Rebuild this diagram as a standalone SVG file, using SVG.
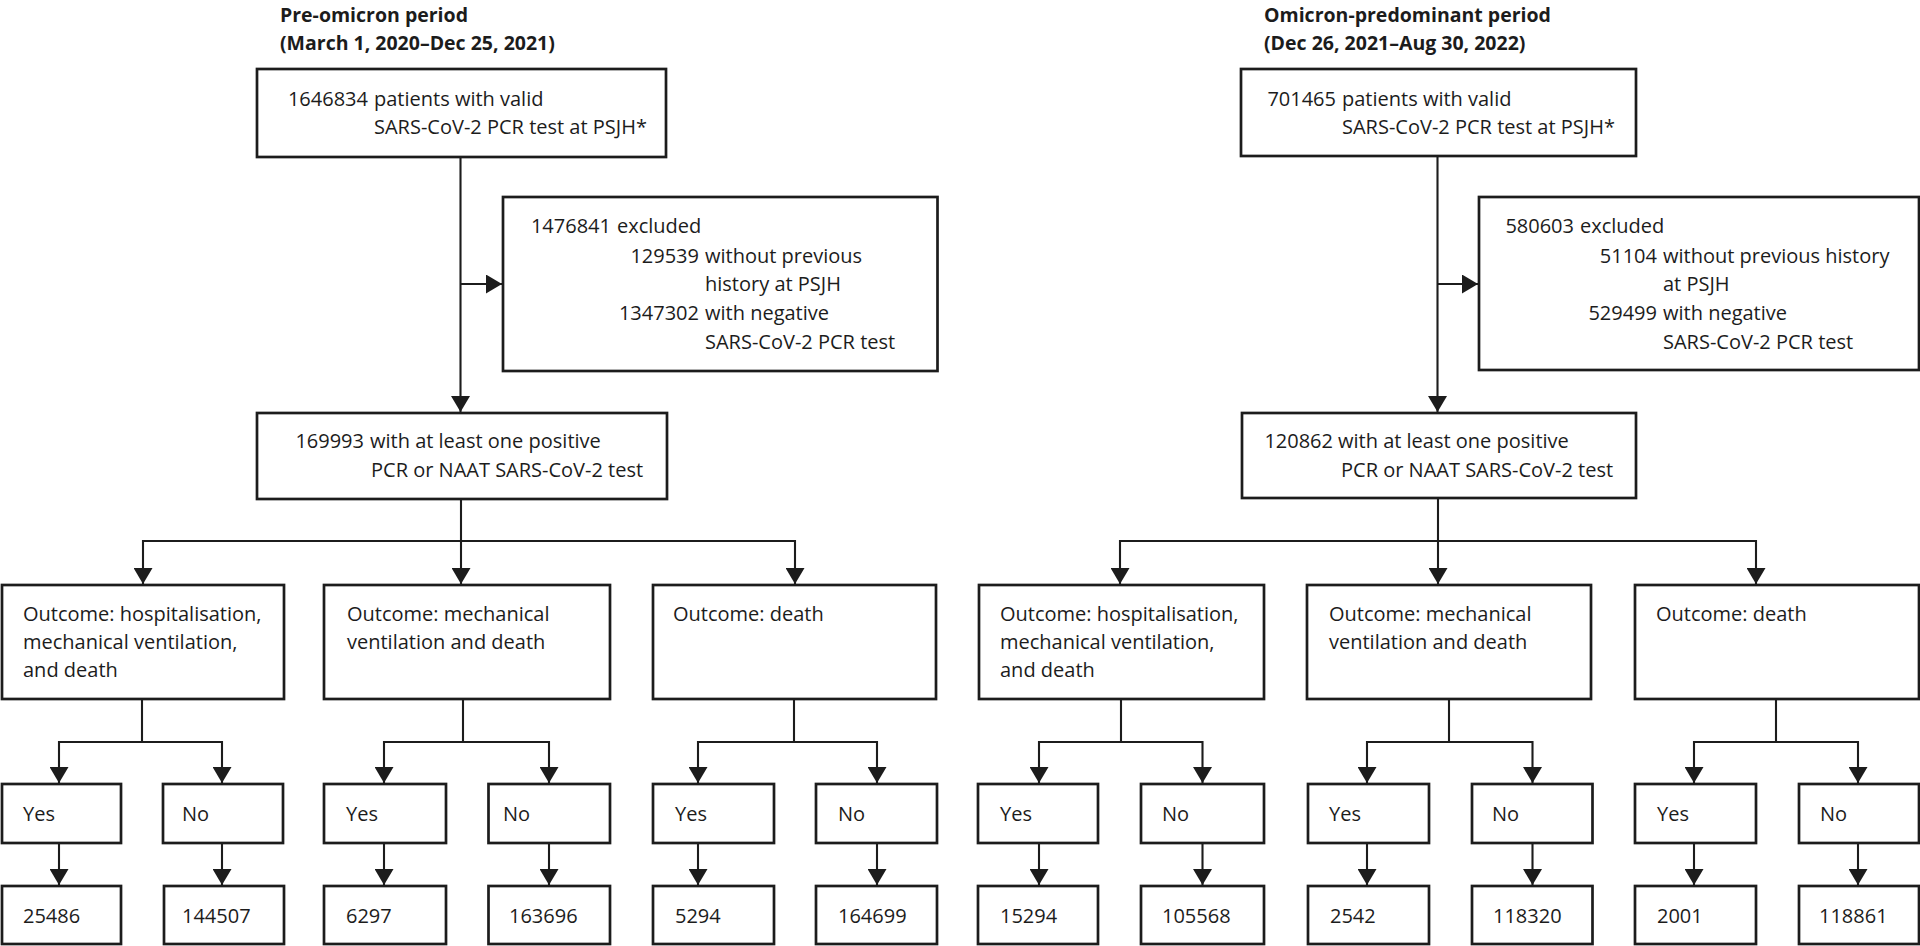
<svg xmlns="http://www.w3.org/2000/svg" width="1920" height="946" viewBox="0 0 1920 946">
<style>
.bg{fill:#ffffff}
.box{fill:#ffffff;stroke:#1c1c1c;stroke-width:2.7}
.c{fill:none;stroke:#1c1c1c;stroke-width:2.1}
.t{font-family:"Open Sans","Liberation Sans",sans-serif;font-size:20px;fill:#1c1c1c}
.h{font-weight:700;font-size:19.5px}
.e{text-anchor:end}
</style>
<defs>
<marker id="ah" viewBox="0 0 16 19" refX="16" refY="9.5" markerWidth="16" markerHeight="19" markerUnits="userSpaceOnUse" orient="auto">
<path d="M0,0 L16,9.5 L0,19 Z" fill="#1c1c1c"/>
</marker>
</defs>
<rect class="bg" x="0" y="0" width="1920" height="946"/>

<g id="headers">
<text class="t h" x="280" y="22">Pre-omicron period</text>
<text class="t h" x="280" y="50">(March 1, 2020–Dec 25, 2021)</text>
<text class="t h" x="1264" y="22">Omicron-predominant period</text>
<text class="t h" x="1264" y="50">(Dec 26, 2021–Aug 30, 2022)</text>
</g>

<g id="connectors">
<path class="c" d="M460.5,157 V412" marker-end="url(#ah)"/>
<path class="c" d="M460.5,284 H502" marker-end="url(#ah)"/>
<path class="c" d="M461,499 V541 H143 V584" marker-end="url(#ah)"/>
<path class="c" d="M461,541 V584" marker-end="url(#ah)"/>
<path class="c" d="M461,541 H795 V584" marker-end="url(#ah)"/>
<path class="c" d="M142,699 V742 H59 V783" marker-end="url(#ah)"/>
<path class="c" d="M142,742 H222 V783" marker-end="url(#ah)"/>
<path class="c" d="M463,699 V742 H384 V783" marker-end="url(#ah)"/>
<path class="c" d="M463,742 H549 V783" marker-end="url(#ah)"/>
<path class="c" d="M794,699 V742 H698 V783" marker-end="url(#ah)"/>
<path class="c" d="M794,742 H877 V783" marker-end="url(#ah)"/>
<path class="c" d="M59,843 V885" marker-end="url(#ah)"/>
<path class="c" d="M222,843 V885" marker-end="url(#ah)"/>
<path class="c" d="M384,843 V885" marker-end="url(#ah)"/>
<path class="c" d="M549,843 V885" marker-end="url(#ah)"/>
<path class="c" d="M698,843 V885" marker-end="url(#ah)"/>
<path class="c" d="M877,843 V885" marker-end="url(#ah)"/>

<path class="c" d="M1437.5,156 V412" marker-end="url(#ah)"/>
<path class="c" d="M1437.5,284 H1478" marker-end="url(#ah)"/>
<path class="c" d="M1438,498 V541 H1120 V584" marker-end="url(#ah)"/>
<path class="c" d="M1438,541 V584" marker-end="url(#ah)"/>
<path class="c" d="M1438,541 H1756 V584" marker-end="url(#ah)"/>
<path class="c" d="M1121,699 V742 H1039 V783" marker-end="url(#ah)"/>
<path class="c" d="M1121,742 H1202.5 V783" marker-end="url(#ah)"/>
<path class="c" d="M1449,699 V742 H1367 V783" marker-end="url(#ah)"/>
<path class="c" d="M1449,742 H1532.5 V783" marker-end="url(#ah)"/>
<path class="c" d="M1776,699 V742 H1694 V783" marker-end="url(#ah)"/>
<path class="c" d="M1776,742 H1858 V783" marker-end="url(#ah)"/>
<path class="c" d="M1039,843 V885" marker-end="url(#ah)"/>
<path class="c" d="M1202.5,843 V885" marker-end="url(#ah)"/>
<path class="c" d="M1367,843 V885" marker-end="url(#ah)"/>
<path class="c" d="M1532.5,843 V885" marker-end="url(#ah)"/>
<path class="c" d="M1694,843 V885" marker-end="url(#ah)"/>
<path class="c" d="M1858,843 V885" marker-end="url(#ah)"/>
</g>

<!-- Pre-omicron -->
<g id="pre-total">
<rect class="box" x="257" y="69" width="409" height="88"/>
<text class="t" y="106"><tspan class="e" x="368">1646834</tspan><tspan x="374">patients with valid</tspan></text>
<text class="t" x="374" y="134">SARS-CoV-2 PCR test at PSJH*</text>
</g>
<g id="pre-excluded">
<rect class="box" x="503" y="197" width="434.5" height="174"/>
<text class="t" y="233"><tspan class="e" x="611">1476841</tspan><tspan x="617">excluded</tspan></text>
<text class="t" y="263"><tspan class="e" x="699">129539</tspan><tspan x="705">without previous</tspan></text>
<text class="t" x="705" y="291">history at PSJH</text>
<text class="t" y="320"><tspan class="e" x="699">1347302</tspan><tspan x="705">with negative</tspan></text>
<text class="t" x="705" y="349">SARS-CoV-2 PCR test</text>
</g>
<g id="pre-positive">
<rect class="box" x="257" y="413" width="410" height="86"/>
<text class="t" y="448"><tspan class="e" x="364">169993</tspan><tspan x="370">with at least one positive</tspan></text>
<text class="t" x="371" y="477">PCR or NAAT SARS-CoV-2 test</text>
</g>
<g id="pre-outcome-hosp">
<rect class="box" x="2" y="585" width="282" height="114"/>
<text class="t" x="23" y="621">Outcome: hospitalisation,</text>
<text class="t" x="23" y="649">mechanical ventilation,</text>
<text class="t" x="23" y="677">and death</text>
</g>
<g id="pre-outcome-mech">
<rect class="box" x="324" y="585" width="286" height="114"/>
<text class="t" x="347" y="621">Outcome: mechanical</text>
<text class="t" x="347" y="649">ventilation and death</text>
</g>
<g id="pre-outcome-death">
<rect class="box" x="653" y="585" width="283" height="114"/>
<text class="t" x="673" y="621">Outcome: death</text>
</g>
<g id="pre-hosp-yes"><rect class="box" x="2" y="784" width="119" height="59"/><text class="t" x="23" y="821">Yes</text></g>
<g id="pre-hosp-no"><rect class="box" x="163" y="784" width="120" height="59"/><text class="t" x="182" y="821">No</text></g>
<g id="pre-mech-yes"><rect class="box" x="324" y="784" width="122" height="59"/><text class="t" x="346" y="821">Yes</text></g>
<g id="pre-mech-no"><rect class="box" x="488.5" y="784" width="121.5" height="59"/><text class="t" x="503" y="821">No</text></g>
<g id="pre-death-yes"><rect class="box" x="653" y="784" width="121" height="59"/><text class="t" x="675" y="821">Yes</text></g>
<g id="pre-death-no"><rect class="box" x="816" y="784" width="121" height="59"/><text class="t" x="838" y="821">No</text></g>
<g id="pre-hosp-yes-n"><rect class="box" x="2" y="886" width="119" height="58"/><text class="t" x="23" y="923">25486</text></g>
<g id="pre-hosp-no-n"><rect class="box" x="164" y="886" width="120" height="58"/><text class="t" x="182" y="923">144507</text></g>
<g id="pre-mech-yes-n"><rect class="box" x="324" y="886" width="122" height="58"/><text class="t" x="346" y="923">6297</text></g>
<g id="pre-mech-no-n"><rect class="box" x="488.5" y="886" width="121.5" height="58"/><text class="t" x="509" y="923">163696</text></g>
<g id="pre-death-yes-n"><rect class="box" x="653" y="886" width="121" height="58"/><text class="t" x="675" y="923">5294</text></g>
<g id="pre-death-no-n"><rect class="box" x="816" y="886" width="121" height="58"/><text class="t" x="838" y="923">164699</text></g>

<!-- Omicron -->
<g id="omi-total">
<rect class="box" x="1241" y="69" width="395" height="87"/>
<text class="t" y="106"><tspan class="e" x="1336">701465</tspan><tspan x="1342">patients with valid</tspan></text>
<text class="t" x="1342" y="134">SARS-CoV-2 PCR test at PSJH*</text>
</g>
<g id="omi-excluded">
<rect class="box" x="1479" y="197" width="440" height="173"/>
<text class="t" y="233"><tspan class="e" x="1574">580603</tspan><tspan x="1580">excluded</tspan></text>
<text class="t" y="263"><tspan class="e" x="1657">51104</tspan><tspan x="1663">without previous history</tspan></text>
<text class="t" x="1663" y="291">at PSJH</text>
<text class="t" y="320"><tspan class="e" x="1657">529499</tspan><tspan x="1663">with negative</tspan></text>
<text class="t" x="1663" y="349">SARS-CoV-2 PCR test</text>
</g>
<g id="omi-positive">
<rect class="box" x="1242" y="413" width="394" height="85"/>
<text class="t" y="448"><tspan class="e" x="1333">120862</tspan><tspan x="1338">with at least one positive</tspan></text>
<text class="t" x="1341" y="477">PCR or NAAT SARS-CoV-2 test</text>
</g>
<g id="omi-outcome-hosp">
<rect class="box" x="979" y="585" width="285" height="114"/>
<text class="t" x="1000" y="621">Outcome: hospitalisation,</text>
<text class="t" x="1000" y="649">mechanical ventilation,</text>
<text class="t" x="1000" y="677">and death</text>
</g>
<g id="omi-outcome-mech">
<rect class="box" x="1307" y="585" width="284" height="114"/>
<text class="t" x="1329" y="621">Outcome: mechanical</text>
<text class="t" x="1329" y="649">ventilation and death</text>
</g>
<g id="omi-outcome-death">
<rect class="box" x="1635" y="585" width="284" height="114"/>
<text class="t" x="1656" y="621">Outcome: death</text>
</g>
<g id="omi-hosp-yes"><rect class="box" x="978" y="784" width="120" height="59"/><text class="t" x="1000" y="821">Yes</text></g>
<g id="omi-hosp-no"><rect class="box" x="1141" y="784" width="123" height="59"/><text class="t" x="1162" y="821">No</text></g>
<g id="omi-mech-yes"><rect class="box" x="1308" y="784" width="121" height="59"/><text class="t" x="1329" y="821">Yes</text></g>
<g id="omi-mech-no"><rect class="box" x="1472" y="784" width="120.5" height="59"/><text class="t" x="1492" y="821">No</text></g>
<g id="omi-death-yes"><rect class="box" x="1635" y="784" width="121" height="59"/><text class="t" x="1657" y="821">Yes</text></g>
<g id="omi-death-no"><rect class="box" x="1799" y="784" width="120" height="59"/><text class="t" x="1820" y="821">No</text></g>
<g id="omi-hosp-yes-n"><rect class="box" x="978" y="886" width="120" height="58"/><text class="t" x="1000" y="923">15294</text></g>
<g id="omi-hosp-no-n"><rect class="box" x="1141" y="886" width="123" height="58"/><text class="t" x="1162" y="923">105568</text></g>
<g id="omi-mech-yes-n"><rect class="box" x="1308" y="886" width="121" height="58"/><text class="t" x="1330" y="923">2542</text></g>
<g id="omi-mech-no-n"><rect class="box" x="1472" y="886" width="120.5" height="58"/><text class="t" x="1493" y="923">118320</text></g>
<g id="omi-death-yes-n"><rect class="box" x="1635" y="886" width="121" height="58"/><text class="t" x="1657" y="923">2001</text></g>
<g id="omi-death-no-n"><rect class="box" x="1799" y="886" width="120" height="58"/><text class="t" x="1819" y="923">118861</text></g>
</svg>
